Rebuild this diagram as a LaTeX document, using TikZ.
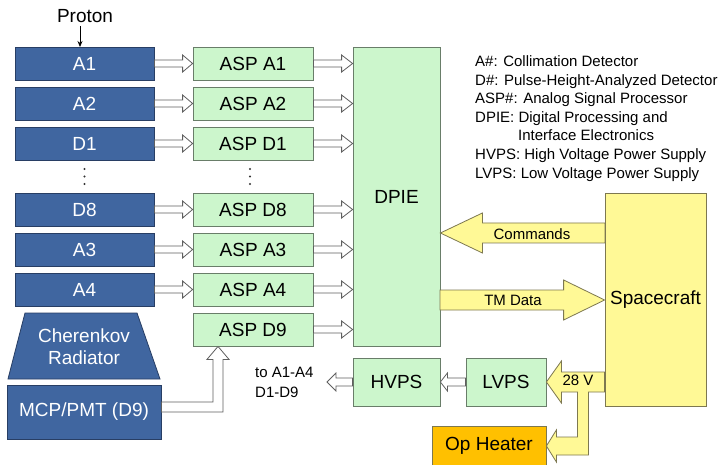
\documentclass[tikz,border=0pt]{standalone}
\usepackage{fontspec}
\setmainfont{Liberation Sans}
\usetikzlibrary{calc,arrows.meta}
\definecolor{bfill}{RGB}{64,102,160}
\definecolor{bdraw}{RGB}{40,62,100}
\definecolor{gfill}{RGB}{204,246,204}
\definecolor{gdraw}{RGB}{105,125,105}
\definecolor{yfill}{RGB}{255,249,150}
\definecolor{ydraw}{RGB}{125,120,80}
\definecolor{ofill}{RGB}{255,192,0}
\definecolor{hdraw}{RGB}{95,95,95}
\newcommand\hollowarr[6]{%
  \draw[#6] let \p1=(#1), \p2=(#2) in
    (\x1,\y1+#3) -- (\x2-#5,\y1+#3) -- (\x2-#5,\y1+#4) -- (\x2,\y1)
    -- (\x2-#5,\y1-#4) -- (\x2-#5,\y1-#3) -- (\x1,\y1-#3) -- cycle;}
\begin{document}
\begin{tikzpicture}[x=1pt,y=-1pt,
  bigfont/.style={font=\fontsize{19}{22}\selectfont},
  smallfont/.style={font=\fontsize{15}{18.7}\selectfont},
  det/.style={draw=bdraw,fill=bfill,text=white,bigfont,line width=0.8pt,
    minimum width=139pt,minimum height=33pt,inner sep=0pt},
  aspbox/.style={draw=gdraw,fill=gfill,text=black,bigfont,line width=0.8pt,
    minimum width=120pt,minimum height=33pt,inner sep=0pt},
  gbox/.style={draw=gdraw,fill=gfill,text=black,bigfont,line width=0.8pt,inner sep=0pt},
  hollow/.style={draw=hdraw,fill=white,line width=0.8pt,line join=miter},
  fat/.style={draw=ydraw,fill=yfill,line width=0.8pt,line join=miter},
  vdot/.style={fill=black!80,radius=1.1pt},
  legend/.style={smallfont,anchor=base west,inner sep=0pt}]
\useasboundingbox (0,0) rectangle (723,465);
\fill[white] (0,0) rectangle (723,465);

% detectors
\node[det] (a1) at (84.5,63.5) {A1};
\node[det] (a2) at (84.5,103.5) {A2};
\node[det] (d1) at (84.5,143.5) {D1};
\node[det] (d8) at (84.5,209.5) {D8};
\node[det] (a3) at (84.5,249.5) {A3};
\node[det] (a4) at (84.5,289.5) {A4};
\foreach \yy in {169,176.5,184}{\fill[vdot] (84.5,\yy) circle; \fill[vdot] (250,\yy) circle;}

% ASP boxes
\node[aspbox] (sa1) at (253,63.5) {ASP A1};
\node[aspbox] (sa2) at (253,103.5) {ASP A2};
\node[aspbox] (sd1) at (253,143.5) {ASP D1};
\node[aspbox] (sd8) at (253,209.5) {ASP D8};
\node[aspbox] (sa3) at (253,249.5) {ASP A3};
\node[aspbox] (sa4) at (253,289.5) {ASP A4};
\node[aspbox] (sd9) at (253,329.5) {ASP D9};

% Proton
\node[bigfont,inner sep=0pt] (proton) at (85,16) {Proton};
\coordinate (parr) at (80,47);
\draw[line width=0.8pt,-{Stealth[length=6pt,width=5pt]}] (parr |- proton.south) ++(0,3) -- (parr);

% Cherenkov radiator
\draw[draw=bdraw,fill=bfill,line width=0.8pt] (25,313) -- (137,313) -- (160,379) -- (8,379) -- cycle;
\node[bigfont,text=white,align=center,inner sep=0pt] (cher) at (84,347) {Cherenkov\\[0pt]Radiator};
\node[det,minimum width=154pt,minimum height=54pt] (mcp) at (84,412) {MCP/PMT (D9)};

% DPIE
\node[gbox,minimum width=87pt,minimum height=299pt] (dpie) at (396.5,196.5) {DPIE};

% HVPS, LVPS
\node[gbox,minimum width=87pt,minimum height=48pt] (hvps) at (396.5,382) {HVPS};
\node[gbox,minimum width=80pt,minimum height=48pt] (lvps) at (506,382) {LVPS};
\node[draw=ydraw,fill=ofill,bigfont,line width=0.8pt,inner sep=0pt,
  minimum width=114pt,minimum height=40pt] (heat) at (489,446) {Op Heater};

% detector -> ASP arrows
\foreach \s/\t in {a1/sa1,a2/sa2,d1/sd1,d8/sd8,a3/sa3,a4/sa4}{
  \hollowarr{\s.east}{\t.west}{3.5pt}{8.5pt}{10pt}{hollow}
}
% ASP -> DPIE
\foreach \s in {sa1,sa2,sd1,sd8,sa3,sa4,sd9}{
  \hollowarr{\s.east}{dpie.west}{3.5pt}{8.5pt}{11pt}{hollow}
}
% MCP -> ASP D9 elbow
\coordinate (d9tip) at ($(sd9.south)+(-35,0)$);
\draw[hollow] let \p1=(mcp.east), \p2=(d9tip) in
  (\x1,\y1+10pt) -- (\x2-5pt,\y1+10pt) -- (\x2-5pt,\y2-13pt) -- (\x2-11pt,\y2-13pt)
  -- (\x2,\y2) -- (\x2+11pt,\y2-13pt) -- (\x2+5pt,\y2-13pt) -- (\x2+5pt,\y1) -- (\x1,\y1) -- cycle;

% LVPS -> HVPS, HVPS -> detectors
\hollowarr{lvps.west}{hvps.east}{4pt}{9pt}{-7pt}{hollow}
\coordinate (toarr) at (327,382);
\hollowarr{hvps.west}{toarr}{4pt}{9pt}{-9pt}{hollow}
\node[align=left,anchor=west,inner sep=0pt,font=\fontsize{15}{20}\selectfont] (totext) at (255,382) {to A1-A4\\D1-D9};

% Spacecraft arrows
\coordinate (cmd) at (605,233);
\coordinate (tm) at (440,300);
\node[draw=ydraw,fill=yfill,bigfont,line width=0.8pt,inner sep=0pt,
  minimum width=101pt,minimum height=213pt] (sc) at (655.5,299.5) {};
\hollowarr{cmd}{dpie.east}{10pt}{20pt}{-42pt}{fat}
\hollowarr{tm}{sc.west}{10pt}{20pt}{41pt}{fat}
\node[smallfont,inner sep=0pt] (cmdlab) at (532,234) {Commands};
\node[smallfont,inner sep=0pt] (tmlab) at (513,300) {TM Data};

% 28 V arrow with branch to heater
\draw[fat] let \p1=(sc.west), \p2=(lvps.east), \p3=(heat.east) in
  (\x1,\y2+10pt) -- (\x2+15pt,\y2+10pt) -- (\x2+15pt,\y2+21pt) -- (\x2,\y2)
  -- (\x2+15pt,\y2-21pt) -- (\x2+15pt,\y2-10pt) -- (\x2+31pt,\y2-10pt)
  -- (\x2+31pt,\y3+9pt) -- (\x3+10pt,\y3+9pt) -- (\x3+10pt,\y3+16pt) -- (\x3,\y3)
  -- (\x3+10pt,\y3-16pt) -- (\x3+10pt,\y3-9pt) -- (\x2+42pt,\y3-9pt)
  -- (\x2+42pt,\y2-10pt) -- (\x1,\y2-10pt) -- cycle;
\node[draw=ydraw,fill=yfill,bigfont,line width=0.8pt,inner sep=0pt,
  minimum width=101pt,minimum height=213pt] (sc2) at (sc) {Spacecraft};
\node[smallfont,inner sep=0pt] (v28) at (578,380) {28 V};

% legend
\node[legend] (l1) at (475,66.5) {A\#: Collimation Detector};
\node[legend] (l2) at (475,85.5) {D\#: Pulse-Height-Analyzed Detector};
\node[legend] (l3) at (475,103.5) {ASP\#: Analog Signal Processor};
\node[legend] (l4) at (475,122.5) {DPIE: Digital Processing and};
\node[legend] (l5) at (518,140.5) {Interface Electronics};
\node[legend] (l6) at (475,159.5) {HVPS: High Voltage Power Supply};
\node[legend] (l7) at (475,178.5) {LVPS: Low Voltage Power Supply};
\end{tikzpicture}
\end{document}
